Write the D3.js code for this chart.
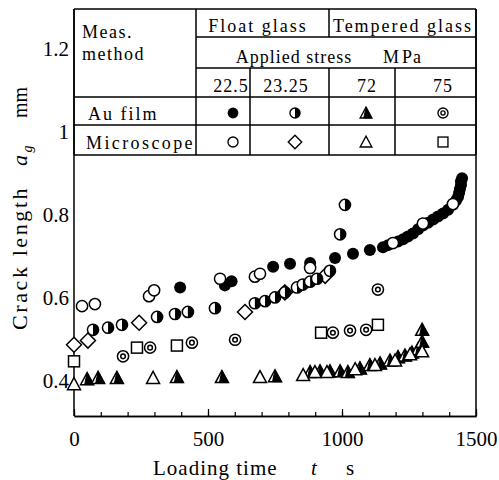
<!DOCTYPE html>
<html><head><meta charset="utf-8">
<script src="https://cdn.jsdelivr.net/npm/d3@7"></script>
<style>
body{margin:0;background:#fff}
svg text{font-family:"Liberation Serif","Times New Roman",Times,"DejaVu Serif",serif !important;fill:#000}
</style>
</head><body>
<svg id="c" width="499" height="480"></svg>
<script>
// ---- data (t in s, crack length in mm) ----
const stressLabels = ["22.5", "23.25", "72", "75"];
const methodLabels = ["Au film", "Microscope"];
const xTicks = [0, 500, 1000, 1500];
const xMinorTicks = [0,100,200,300,400,500,600,700,800,900,1000,1100,1200,1300,1400,1500];
const yTicks = [0.4, 0.6, 0.8, 1, 1.2];

// Au film, float glass 22.5 MPa (filled circle)
const auFilm225 = [
  [396,0.623],[563,0.628],[588,0.638],[743,0.673],[806,0.680],[881,0.682],[974,0.694],
  [1041,0.704],[1104,0.713],[1153,0.720],[1172,0.725],[1190,0.730],[1209,0.734],[1228,0.739],
  [1246,0.746],[1265,0.753],[1284,0.763],[1302,0.772],[1321,0.779],[1340,0.787],[1358,0.794],
  [1377,0.801],[1396,0.810],[1414,0.822],[1425,0.832],[1433,0.841],[1437,0.851],[1440,0.860],
  [1444,0.870],[1444,0.879],[1448,0.886]
];
// Microscope, float glass 22.5 MPa (open circle)
const micro225 = [
  [30,0.578],[78,0.583],[280,0.602],[299,0.616],[545,0.644],[675,0.649],[694,0.656],
  [881,0.670],[1190,0.730],[1302,0.777],[1414,0.824]
];
// Au film, float glass 23.25 MPa (half circle)
const auFilm2325 = [
  [71,0.521],[127,0.526],[179,0.533],[310,0.552],[377,0.559],[425,0.564],[526,0.573],
  [675,0.585],[713,0.590],[750,0.599],[787,0.611],[832,0.623],[854,0.630],[881,0.637],
  [907,0.644],[955,0.663],[993,0.751],[1011,0.822]
];
// Microscope, float glass 23.25 MPa (diamond)
const micro2325 = [
  [0,0.485],[52,0.495],[243,0.538],[638,0.564],[787,0.611],[937,0.651]
];
// Au film, tempered glass 72 MPa (filled triangle)
const auFilm72 = [
  [49,0.402],[90,0.405],[160,0.405],[384,0.407],[552,0.407],[750,0.409],[881,0.419],
  [918,0.421],[955,0.421],[993,0.421],[1022,0.419],[1067,0.428],[1104,0.436],[1142,0.440],
  [1179,0.447],[1209,0.455],[1235,0.459],[1261,0.466],[1284,0.474],[1299,0.492],[1299,0.521]
];
// Microscope, tempered glass 72 MPa (open triangle)
const micro72 = [
  [0,0.390],[295,0.405],[694,0.407],[855,0.412],[899,0.419],[944,0.419],[1049,0.426],
  [1123,0.436],[1198,0.447],[1254,0.462],[1299,0.469]
];
// Au film, tempered glass 75 MPa (double circle)
const auFilm75 = [
  [183,0.457],[284,0.478],[440,0.490],[601,0.497],[966,0.514],[1030,0.519],[1090,0.521],[1134,0.618]
];
// Microscope, tempered glass 75 MPa (square)
const micro75 = [
  [0,0.445],[235,0.478],[384,0.483],[922,0.514],[1134,0.533]
];

// ---- drawing ----
const FONT = '"Liberation Serif","Times New Roman",Times,"DejaVu Serif",serif';
const svg = d3.select("#c");
const x = d3.scaleLinear().domain([0, 1500]).range([74, 476]);
const y = d3.scaleLinear().domain([0.4, 1.0]).range([380, 131]);
const yTop = 9, yBot = 416;

// frame
svg.append("line").attr("x1",74).attr("x2",74).attr("y1",yTop).attr("y2",yBot).attr("stroke","#000").attr("stroke-width",1.5);
svg.append("line").attr("x1",476).attr("x2",476).attr("y1",yTop).attr("y2",yBot).attr("stroke","#000").attr("stroke-width",1.5);

// x axis
const gx = svg.append("g").attr("transform",`translate(0,${yBot})`);
gx.call(d3.axisBottom(x).tickValues(xMinorTicks).tickSize(-4).tickSizeOuter(0).tickFormat(""));
const gx2 = svg.append("g").attr("transform",`translate(0,${yBot})`);
gx2.call(d3.axisBottom(x).tickValues(xTicks).tickSize(-7).tickSizeOuter(0).tickPadding(15).tickFormat(d3.format("d")));
[gx, gx2].forEach(g => {
  g.attr("font-family", FONT);
  g.selectAll("path.domain").attr("stroke","#000").attr("stroke-width",1.5);
  g.selectAll(".tick line").attr("stroke","#000").attr("stroke-width",1.2);
  g.selectAll("text").style("font-size","21px").style("font-family",FONT);
});

// y axis labels
const gy = svg.append("g").attr("transform","translate(74,0)");
gy.call(d3.axisLeft(y).tickValues(yTicks).tickSize(0).tickPadding(5).tickFormat(d => d === 1 ? "1" : d3.format(".1f")(d)));
gy.attr("font-family", FONT);
gy.select("path.domain").remove();
gy.selectAll("text").style("font-size","21px").style("font-family",FONT).attr("dy","0.36em");

// axis titles
const xt = svg.append("text").attr("x",153).attr("y",475).style("font-family",FONT).style("font-size","21px").style("letter-spacing","1px");
xt.append("tspan").text("Loading time");
xt.append("tspan").attr("x",311).attr("font-style","italic").text("t");
xt.append("tspan").attr("x",346).text("s");

const yt = svg.append("text").attr("transform","translate(27,330) rotate(-90)").style("font-family",FONT).style("font-size","22px").style("letter-spacing","2.6px");
yt.append("tspan").attr("x",0).text("Crack length");
yt.append("tspan").attr("x",164).attr("font-style","italic").text("a");
yt.append("tspan").attr("dy",5).style("font-size","14px").attr("font-style","italic").text("g");
yt.append("tspan").attr("x",212).attr("dy",-5).style("letter-spacing","0px").style("font-size","20px").text("mm");

// ---- table ----
const L = 74, C1 = 196, C2 = 250, C3 = 329, C4 = 395, R = 476;
const r0 = yTop, r1 = 37, r2 = 68, r3 = 97, r4 = 125, r5 = 155;
const hl = [[L,C1,r0],[C1,R,r0],[C1,R,r1],[C1,R,r2],[L,R,r3],[L,R,r4],[L,R,r5]];
const vl = [[L,r0,r5],[C1,r0,r5],[C3,r0,r1],[C2,r2,r5],[C3,r2,r5],[C4,r2,r5],[R,r0,r5]];
hl.forEach(d => svg.append("line").attr("x1",d[0]).attr("x2",d[1]).attr("y1",d[2]).attr("y2",d[2]).attr("stroke","#000").attr("stroke-width",1.5));
vl.forEach(d => svg.append("line").attr("x1",d[0]).attr("x2",d[0]).attr("y1",d[1]).attr("y2",d[2]).attr("stroke","#000").attr("stroke-width",1.5));

const tt = (xx, yy, s, anchor, ls) => svg.append("text").attr("x",xx).attr("y",yy).attr("text-anchor",anchor||"start")
  .style("font-family",FONT).style("font-size","18px").style("letter-spacing",(ls==null?1.5:ls)+"px").text(s);
tt(82, 38, "Meas.", "start", 1.5);
tt(82, 60, "method", "start", 1.5);
tt(258, 32, "Float glass", "middle", 2);
tt(403, 32, "Tempered glass", "middle", 2);
tt(294, 63, "Applied stress", "middle", 1);
const mpa = svg.append("text").attr("x",383).attr("y",63).style("font-family",FONT).style("font-size","18px").style("letter-spacing","1px");
mpa.append("tspan").text("M");
mpa.append("tspan").attr("x",402).text("Pa");
const labC = [231, 286, 367, 443];
const symC = [233, 295, 366, 443];
stressLabels.forEach((s,i) => tt(labC[i], 92, s, "middle", 1));
tt(88, 120, methodLabels[0], "start", 2);
tt(86, 149, methodLabels[1], "start", 2.4);

// ---- markers ----
function marker(g, type, cx, cy, sc) {
  sc = sc || 1;
  const s = g.append("g").attr("transform",`translate(${cx},${cy}) scale(${sc})`);
  const sw = 1.5;
  if (type === "fc") s.append("circle").attr("r",6).attr("fill","#000");
  else if (type === "oc") s.append("circle").attr("r",5.6).attr("fill","#fff").attr("stroke","#000").attr("stroke-width",sw);
  else if (type === "hc") {
    s.append("circle").attr("r",5.6).attr("fill","#fff").attr("stroke","#000").attr("stroke-width",sw);
    s.append("path").attr("d","M0,-5.6 A5.6,5.6 0 0 1 0,5.6 Z").attr("fill","#000");
  }
  else if (type === "di") s.append("path").attr("d","M0,-7.5 L7.5,0 L0,7.5 L-7.5,0 Z").attr("fill","#fff").attr("stroke","#000").attr("stroke-width",sw);
  else if (type === "ft") {
    s.append("path").attr("d","M0,-6.5 L6.5,5.5 L-6.5,5.5 Z").attr("fill","#fff").attr("stroke","#000").attr("stroke-width",sw);
    s.append("path").attr("d","M0,-6.5 L6.5,5.5 L-2.5,5.5 Z").attr("fill","#000").attr("stroke","#000").attr("stroke-width",1);
  }
  else if (type === "ot") s.append("path").attr("d","M0,-6.5 L6.5,5.5 L-6.5,5.5 Z").attr("fill","#fff").attr("stroke","#000").attr("stroke-width",sw);
  else if (type === "dc") {
    s.append("circle").attr("r",5.6).attr("fill","#fff").attr("stroke","#000").attr("stroke-width",sw);
    s.append("circle").attr("r",2.3).attr("fill","none").attr("stroke","#000").attr("stroke-width",sw);
  }
  else if (type === "sq") s.append("rect").attr("x",-5.5).attr("y",-5.5).attr("width",11).attr("height",11).attr("fill","#fff").attr("stroke","#000").attr("stroke-width",sw);
}

const series = [
  {data: auFilm72, type: "ft", col: 2, row: 0},
  {data: micro72, type: "ot", col: 2, row: 1},
  {data: auFilm75, type: "dc", col: 3, row: 0},
  {data: micro75, type: "sq", col: 3, row: 1},
  {data: micro2325, type: "di", col: 1, row: 1},
  {data: auFilm2325, type: "hc", col: 1, row: 0},
  {data: auFilm225, type: "fc", col: 0, row: 0},
  {data: micro225, type: "oc", col: 0, row: 1}
];
const plot = svg.append("g");
series.forEach(sr => {
  sr.data.forEach(d => marker(plot, sr.type, x(d[0]), y(d[1])));
});
// legend symbols in table
const rowC = [113, 142];
series.forEach(sr => marker(svg, sr.type, symC[sr.col], rowC[sr.row], 0.9));
</script>
</body></html>
